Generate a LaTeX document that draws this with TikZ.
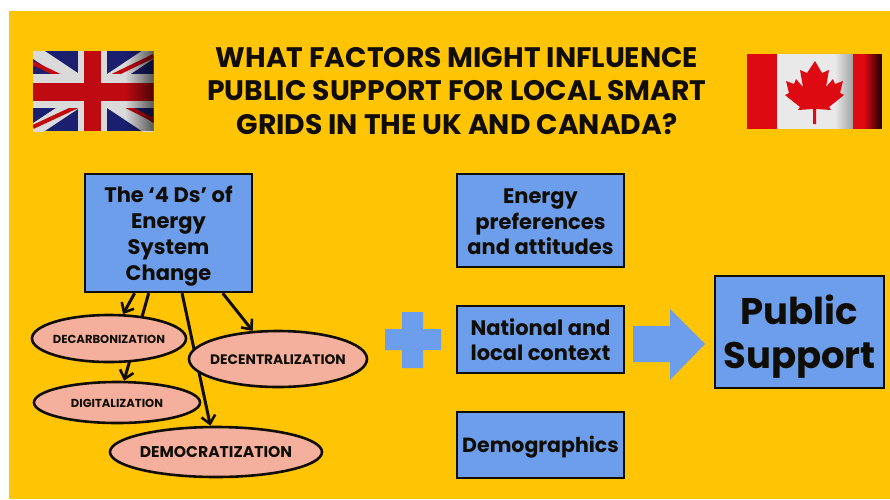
\documentclass[tikz,border=0pt]{standalone}
\usepackage{fontspec}
\setmainfont{Poppins}
\usetikzlibrary{shapes.geometric,arrows.meta,calc,fadings}
\definecolor{bgy}{HTML}{FFC404}
\definecolor{boxb}{HTML}{6D9EEB}
\definecolor{ell}{HTML}{F4B09C}
\definecolor{ink}{HTML}{100D06}
\definecolor{ukb}{HTML}{1B1F70}
\definecolor{ukr}{HTML}{C00A12}
\definecolor{ukw}{HTML}{DADADA}
\definecolor{car}{HTML}{DD0A12}
\newcommand\lift[1]{\rule{0pt}{#1}}
\newcommand\ovaltext[1]{\makebox[0pt]{#1}}
\pgfdeclarelayer{ground}
\pgfdeclarelayer{links}
\pgfsetlayers{ground,links,main}
\tikzset{x=1pt,y=1pt,
 bluebox/.style={draw=ink,line width=2.4pt,fill=boxb,inner sep=0pt,align=center,text=ink,font=\fontsize{21}{25.5}\selectfont\bfseries},
 oval/.style={ellipse,draw=ink,line width=2.6pt,fill=ell,inner sep=0pt,text=ink},
 link/.style={draw=ink,line width=3pt,-{Straight Barb[length=8pt,width=14pt,line width=2.6pt]}},
 bluemark/.style={fill=boxb},
 shadeend/.style={fill=black,path fading=west},
}
\begin{document}
\begin{tikzpicture}
\useasboundingbox (0,0) rectangle (890,-499);
\begin{pgfonlayer}{ground}
\fill[white] (0,0) rectangle (890,-499);
\fill[bgy] (9,-11) rectangle (890,-499);
\end{pgfonlayer}
% UK flag
\begin{scope}
\clip (33,-51) rectangle (153.5,-131);
\fill[ukb] (33,-51) rectangle (153.5,-131);
\draw[ukw,line width=13pt] (33,-51) -- (153.5,-131) (33,-131) -- (153.5,-51);
\draw[ukr,line width=4pt] (33,-63) -- (62,-77) (153.5,-120) -- (124,-105) (33,-127) -- (78,-106) (153.5,-56) -- (110,-77);
\fill[ukw] (78,-51) rectangle (107,-131);
\fill[ukw] (33,-74) rectangle (153.5,-108);
\fill[ukr] (84,-51) rectangle (101,-131);
\fill[ukr] (33,-83) rectangle (153.5,-101);
\fill[shadeend,opacity=.6] (125,-51) rectangle (153.5,-131);
\end{scope}
% Canada flag
\fill[car] (747,-54) rectangle (882,-129);
\fill[ukw!60!white] (777,-54) rectangle (852.5,-129);
\fill[shadeend,opacity=.9] (864,-54) rectangle (882,-129);
\fill[shadeend,opacity=.3] (835,-54) rectangle (852.5,-129);
\fill[car] (815,-61) -- (822,-73) -- (829,-70) -- (826,-87) -- (833,-79) -- (835,-84) -- (843,-81) -- (840,-93) -- (844,-95) -- (829,-107) -- (831,-110) -- (816,-109) -- (816,-124) -- (813,-124) -- (813,-109) -- (798,-110) -- (800,-107) -- (785,-95) -- (789,-93) -- (786,-81) -- (794,-84) -- (796,-79) -- (803,-87) -- (800,-70) -- (807,-73) -- cycle;
% Title
\node[font=\fontsize{28.2}{33.5}\selectfont\bfseries,text=ink,align=center,inner sep=0pt] (title) at (457,-91) {WHAT FACTORS MIGHT INFLUENCE\\PUBLIC SUPPORT FOR LOCAL SMART\\GRIDS IN THE UK AND CANADA?};
% Boxes
\node[bluebox,minimum width=167pt,minimum height=118pt,font=\fontsize{21}{26}\selectfont\bfseries] (fourds) at (168.5,-233) {\lift{22pt}The ‘4 Ds’ of\\Energy\\System\\Change};
\node[bluebox,minimum width=167pt,minimum height=93pt] (prefs) at (540.5,-220.5) {\lift{18pt}Energy\\preferences\\and attitudes};
\node[bluebox,minimum width=167pt,minimum height=67pt] (context) at (540.5,-339.5) {National and\\local context};
\node[bluebox,minimum width=167pt,minimum height=66pt,font=\fontsize{20.5}{25}\selectfont\bfseries] (demog) at (540.5,-445) {\lift{21pt}Demographics};
\node[bluebox,minimum width=169pt,minimum height=112pt,font=\fontsize{37}{44}\selectfont\bfseries] (public) at (799.5,-332) {\lift{38pt}Public\\Support};
% Plus and arrow
\fill[bluemark] (402,-312) -- (423,-312) -- (423,-329) -- (441,-329) -- (441,-350) -- (423,-350) -- (423,-368) -- (402,-368) -- (402,-350) -- (385,-350) -- (385,-329) -- (402,-329) -- cycle;
\fill[bluemark] (633,-326) -- (670,-326) -- (670,-309) -- (705,-344) -- (670,-380) -- (670,-362) -- (633,-362) -- cycle;
% Ovals
\node[oval,minimum width=154pt,minimum height=47pt,font=\fontsize{11.6}{14}\selectfont\bfseries] (decarb) at (109,-338.5) {\lift{11pt}\ovaltext{DECARBONIZATION}};
\node[oval,minimum width=178pt,minimum height=56pt,font=\fontsize{13.8}{17}\selectfont\bfseries] (decent) at (278,-359) {\lift{12pt}\ovaltext{DECENTRALIZATION}};
\node[oval,minimum width=166pt,minimum height=41pt,font=\fontsize{11.6}{14}\selectfont\bfseries] (digit) at (117,-402.5) {\lift{11pt}\ovaltext{DIGITALIZATION}};
\node[oval,minimum width=212pt,minimum height=50pt,font=\fontsize{15.6}{19}\selectfont\bfseries] (democ) at (216,-452) {\ovaltext{DEMOCRATIZATION}};
% Connectors
\coordinate (c1) at ($(fourds.south west)!.30!(fourds.south east)$);
\coordinate (c2) at ($(fourds.south west)!.383!(fourds.south east)$);
\coordinate (c3) at ($(fourds.south west)!.58!(fourds.south east)$);
\coordinate (c4) at ($(fourds.south west)!.82!(fourds.south east)$);
\begin{pgfonlayer}{links}
\draw[link] (c1) -- (decarb.60);
\draw[link] (c2) -- (digit.72);
\draw[link] (c3) -- (democ.102);
\draw[link] (c4) -- (decent.132);
\end{pgfonlayer}
\end{tikzpicture}
\end{document}
